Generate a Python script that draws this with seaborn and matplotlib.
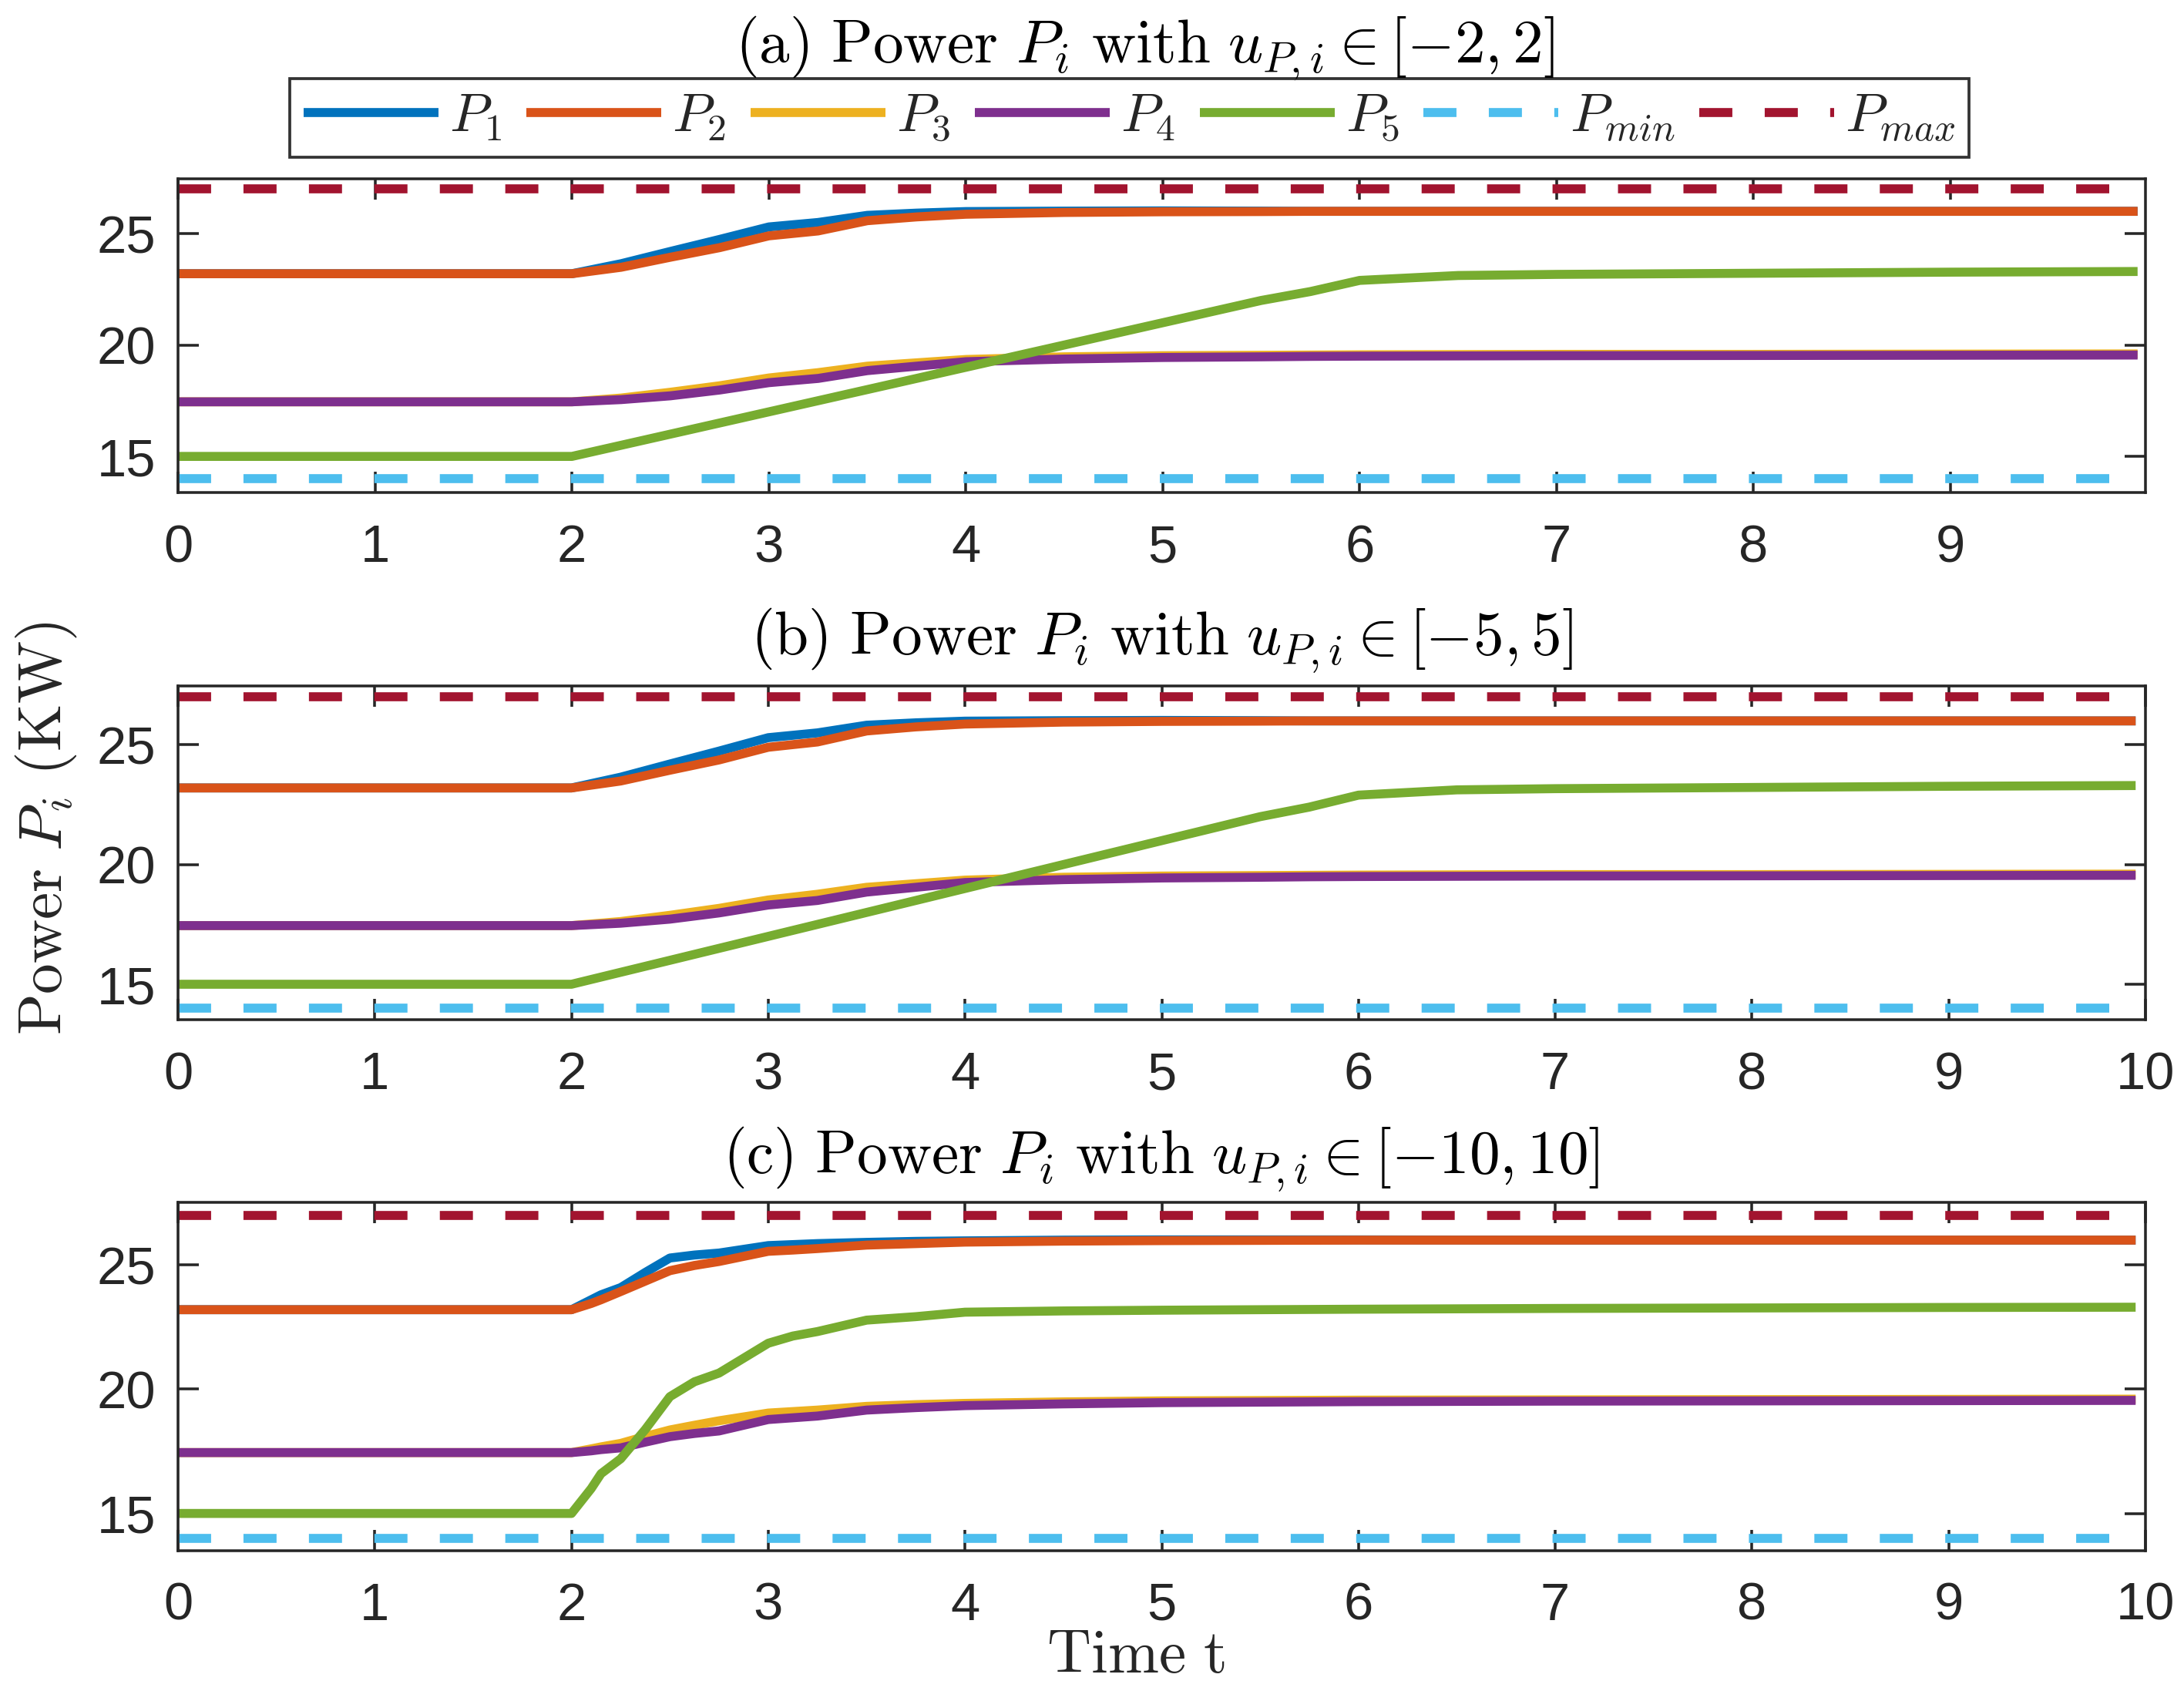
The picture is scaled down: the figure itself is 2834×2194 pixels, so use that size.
import numpy as np
import pandas as pd
import matplotlib
matplotlib.use("Agg")
import matplotlib.pyplot as plt
import seaborn as sns

# ---------------- data ----------------
# panels (a) and (b): slow response (u in [-2,2] and [-5,5])
t_slow = [0, 2, 2.25, 2.5, 2.75, 3, 3.25, 3.5, 3.75, 4, 4.5, 5, 5.5, 5.75, 6, 6.5, 7, 8, 9, 9.95]
P1_slow = [23.2, 23.2, 23.65, 24.2, 24.74, 25.3, 25.5, 25.82, 25.92, 25.99, 26.01, 26.02, 26.01, 26.0, 26.0, 26.0, 26.0, 26.0, 26.0, 26.0]
P2_slow = [23.2, 23.2, 23.49, 23.94, 24.37, 24.9, 25.12, 25.58, 25.75, 25.87, 25.95, 25.98, 25.99, 26.0, 26.0, 26.0, 26.0, 26.0, 26.0, 26.0]
P3_slow = [17.45, 17.45, 17.62, 17.88, 18.17, 18.52, 18.76, 19.05, 19.2, 19.35, 19.47, 19.52, 19.54, 19.55, 19.56, 19.57, 19.58, 19.58, 19.59, 19.6]
P4_slow = [17.45, 17.45, 17.55, 17.72, 17.98, 18.31, 18.5, 18.85, 19.05, 19.25, 19.37, 19.44, 19.47, 19.49, 19.5, 19.51, 19.52, 19.53, 19.54, 19.55]
P5_slow = [15.0, 15.0, 15.5, 16.0, 16.5, 17.0, 17.5, 18.0, 18.5, 19.0, 20.0, 21.0, 22.0, 22.4, 22.9, 23.12, 23.17, 23.22, 23.27, 23.3]

# panel (c): fast response (u in [-10,10])
t_fast = [0, 2, 2.1, 2.15, 2.25, 2.375, 2.5, 2.625, 2.75, 3, 3.125, 3.25, 3.5, 3.75, 4, 4.5, 5, 6, 7, 8, 9, 9.95]
P1_fast = [23.2, 23.2, 23.6, 23.8, 24.09, 24.7, 25.28, 25.4, 25.48, 25.78, 25.82, 25.86, 25.91, 25.95, 25.97, 26.0, 26.01, 26.01, 26.0, 26.0, 26.0, 26.0]
P2_fast = [23.2, 23.2, 23.45, 23.6, 23.93, 24.35, 24.77, 24.98, 25.14, 25.55, 25.6, 25.66, 25.8, 25.86, 25.92, 25.96, 25.98, 26.0, 26.0, 26.0, 26.0, 26.0]
P3_fast = [17.45, 17.45, 17.6, 17.68, 17.82, 18.1, 18.36, 18.55, 18.73, 19.04, 19.1, 19.16, 19.31, 19.38, 19.43, 19.49, 19.53, 19.56, 19.57, 19.58, 19.59, 19.6]
P4_fast = [17.45, 17.45, 17.52, 17.57, 17.64, 17.87, 18.09, 18.22, 18.32, 18.78, 18.85, 18.92, 19.16, 19.26, 19.34, 19.41, 19.46, 19.5, 19.52, 19.53, 19.54, 19.55]
P5_fast = [15.0, 15.0, 16.0, 16.6, 17.2, 18.38, 19.7, 20.3, 20.65, 21.85, 22.14, 22.32, 22.78, 22.92, 23.1, 23.15, 23.18, 23.22, 23.25, 23.27, 23.29, 23.3]

P_min = 14.0
P_max = 27.0

series_labels = [r"$P_1$", r"$P_2$", r"$P_3$", r"$P_4$", r"$P_5$", r"$P_{min}$", r"$P_{max}$"]
panel_titles = [
    r"$\mathrm{(a)\ Power\ }P_i\mathrm{\ with\ }u_{P,i}\in[-2,2]$",
    r"$\mathrm{(b)\ Power\ }P_i\mathrm{\ with\ }u_{P,i}\in[-5,5]$",
    r"$\mathrm{(c)\ Power\ }P_i\mathrm{\ with\ }u_{P,i}\in[-10,10]$",
]
y_ticks = [15, 20, 25]

# ---------------- style ----------------
sns.set_theme(style="white")
plt.rcParams["font.family"] = ["Liberation Sans", "DejaVu Sans"]
plt.rcParams["mathtext.fontset"] = "cm"
plt.rcParams["axes.unicode_minus"] = True

colors = ["#0072BD", "#D95319", "#EDB120", "#7E2F8E", "#77AC30", "#4DBEEE", "#A2142F"]
LW = 2.8
DASH = (0, (3.68, 3.6))
INK = "#262626"
SERIF_FS = 19

W, H = 2834, 2194
fig = plt.figure(figsize=(W / 300, H / 300), dpi=300)

left = 231 / W
width = (2784 - 231) / W
boxes = [(232, 639), (890, 1323), (1560, 2012)]
ylims = [(13.38, 27.46), (13.52, 27.46), (13.5, 27.52)]
xlims = [(0, 9.99), (0, 10), (0, 10)]
xticks = [list(range(0, 10)), list(range(0, 11)), list(range(0, 11))]
title_y = [1 + (232 - 63) / 407, 1 + (890 - 831) / 433, 1 + (1560 - 1504) / 452]
title_x = [0.4915, 0.5, 0.4995]

datasets = [
    (t_slow, [P1_slow, P2_slow, P3_slow, P4_slow, P5_slow]),
    (t_slow, [P1_slow, P2_slow, P3_slow, P4_slow, P5_slow]),
    (t_fast, [P1_fast, P2_fast, P3_fast, P4_fast, P5_fast]),
]

axes = []
for k, ((top, bot), (tt, series)) in enumerate(zip(boxes, datasets)):
    ax = fig.add_axes([left, 1 - bot / H, width, (bot - top) / H])
    axes.append(ax)
    df = pd.DataFrame({"t": tt})
    for i, vals in enumerate(series):
        df["v"] = vals
        sns.lineplot(data=df, x="t", y="v", ax=ax, color=colors[i], lw=LW,
                     solid_capstyle="butt", label=series_labels[i], legend=False)
    df["v"] = [P_min] * len(tt)
    sns.lineplot(data=df, x="t", y="v", ax=ax, color=colors[5], lw=LW,
                 linestyle=DASH, dash_capstyle="butt", label=series_labels[5], legend=False)
    df["v"] = [P_max] * len(tt)
    sns.lineplot(data=df, x="t", y="v", ax=ax, color=colors[6], lw=LW,
                 linestyle=DASH, dash_capstyle="butt", label=series_labels[6], legend=False)

    ax.set_xlim(*xlims[k])
    ax.set_ylim(*ylims[k])
    ax.set_xticks(xticks[k])
    ax.set_yticks(y_ticks)
    ax.set_xlabel("")
    ax.set_ylabel("")
    for sp in ax.spines.values():
        sp.set_visible(True)
        sp.set_color(INK)
        sp.set_linewidth(0.85)
    ax.tick_params(axis="both", direction="in", length=6.5, width=0.85,
                   colors=INK, labelsize=16.5, top=True, right=True,
                   bottom=True, left=True)
    ax.tick_params(axis="x", pad=9.6)
    ax.tick_params(axis="y", pad=7)
    ax.text(title_x[k], title_y[k], panel_titles[k], transform=ax.transAxes,
            ha="center", va="center", fontsize=SERIF_FS, color="black")

# legend
handles = axes[0].get_lines()[:7]
leg = fig.legend(handles, series_labels, loc="center", ncol=7,
                 bbox_to_anchor=((383 + 2548) / 2 / W, 1 - 153 / H),
                 frameon=True, fancybox=False, fontsize=17,
                 handlelength=2.47, handletextpad=0.2, columnspacing=0.45,
                 borderpad=0.25, borderaxespad=0)
leg.get_frame().set_edgecolor("black")
leg.get_frame().set_linewidth(0.9)

fig.text(1474 / W, 1 - 2112 / H, r"$\mathrm{Time\ t}$", ha="center", va="top",
         fontsize=SERIF_FS, color=INK)
fig.text(60 / W, 1 - 1075 / H, r"$\mathrm{Power\ }P_i\mathrm{\ (KW)}$", ha="center",
         va="center", rotation=90, fontsize=SERIF_FS, color=INK)

fig.savefig("out.png", dpi=300)
